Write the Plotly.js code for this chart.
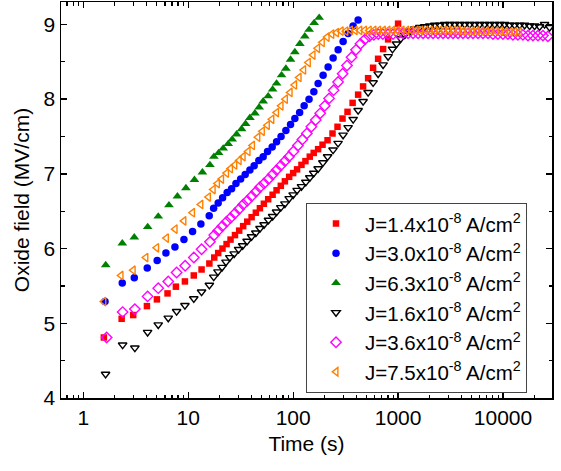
<!DOCTYPE html>
<html>
<head>
<meta charset="utf-8">
<script src="https://cdn.plot.ly/plotly-3.0.1.min.js"></script>
<style>html,body{margin:0;padding:0;background:#fff;}#chart{width:561px;height:471px;}</style>
</head>
<body>
<div id="chart"></div>
<script>
// ---- Data ----
const seriesNames = [
  'J=1.4x10<sup>-8</sup> A/cm<sup>2</sup>',
  'J=3.0x10<sup>-8</sup> A/cm<sup>2</sup>',
  'J=6.3x10<sup>-8</sup> A/cm<sup>2</sup>',
  'J=1.6x10<sup>-8</sup> A/cm<sup>2</sup>',
  'J=3.6x10<sup>-8</sup> A/cm<sup>2</sup>',
  'J=7.5x10<sup>-8</sup> A/cm<sup>2</sup>'
];

const tRed = [1.57, 2.32, 2.99, 4.04, 5.03, 6.35, 7.63, 9.3, 11.3, 13.4, 15.9, 17.7, 19.3, 21.2, 23.2, 25.3, 27.9, 30.6, 33.4, 36.5, 40.2, 44.1, 48.2, 52.6, 57.8, 63.7, 69.5, 76.3, 83.4, 91.6, 100, 109, 120, 131, 144, 157, 173, 190.5, 212.6, 237.2, 264.7, 295.4, 329.7, 368.7, 416, 464, 518, 578, 645, 720, 803, 1000];
const eRed = [4.81, 5.06, 5.11, 5.23, 5.32, 5.40, 5.49, 5.56, 5.64, 5.72, 5.80, 5.88, 5.94, 6.00, 6.06, 6.12, 6.18, 6.24, 6.30, 6.36, 6.42, 6.48, 6.54, 6.60, 6.66, 6.72, 6.78, 6.84, 6.90, 6.96, 7.01, 7.06, 7.12, 7.17, 7.23, 7.28, 7.33, 7.39, 7.45, 7.54, 7.63, 7.74, 7.83, 7.95, 8.06, 8.17, 8.28, 8.42, 8.54, 8.67, 8.80, 9.01];

const tBlue = [1.61, 2.35, 3.06, 4.07, 5.06, 6.13, 7.47, 9.1, 11.0, 13.2, 15.85, 17.46, 19.3, 21.27, 23.5, 25.9, 28.5, 31.6, 34.9, 38.7, 42.5, 47.1, 51.8, 57.0, 63.1, 69.5, 76.7, 85.2, 94.4, 103.8, 115.3, 127.3, 141.7, 157.4, 173, 193, 215.4, 240.4, 268.3, 299.4, 334, 372.8, 416];
const eBlue = [5.29, 5.54, 5.61, 5.74, 5.84, 5.94, 6.02, 6.12, 6.23, 6.33, 6.44, 6.54, 6.61, 6.68, 6.75, 6.80, 6.87, 6.93, 6.99, 7.05, 7.11, 7.18, 7.23, 7.30, 7.36, 7.43, 7.50, 7.58, 7.66, 7.74, 7.82, 7.91, 8.00, 8.10, 8.21, 8.32, 8.43, 8.55, 8.66, 8.77, 8.88, 8.98, 9.06];

const tGreen = [1.635, 2.352, 3.06, 4.107, 5.18, 6.55, 7.89, 9.51, 11.46, 13.65, 16.09, 17.57, 19.48, 21.54, 24.04, 26.24, 28.9, 32.26, 35.2, 38.7, 43.2, 47.4, 51.8, 57.8, 63.7, 69.5, 77.5, 85.2, 94.4, 103.8, 115.8, 129.2, 142, 158.5, 177];
const eGreen = [5.78, 6.07, 6.15, 6.29, 6.43, 6.58, 6.70, 6.81, 6.92, 7.02, 7.12, 7.23, 7.28, 7.34, 7.40, 7.46, 7.53, 7.60, 7.67, 7.75, 7.81, 7.89, 7.97, 8.04, 8.13, 8.21, 8.32, 8.41, 8.53, 8.63, 8.74, 8.84, 8.93, 9.02, 9.09];

const tBlack = [1.63, 2.37, 3.1, 4.1, 5.18, 6.45, 7.75, 9.3, 11.3, 13.4, 15.9, 17.5, 19.2, 21.0, 22.9, 24.9, 27.4, 30.2, 33.0, 36.4, 40.1, 44.1, 48.3, 52.8, 58.2, 63.7, 69.5, 76.2, 83.4, 91.6, 100, 109, 120, 132, 144, 157, 173, 192, 213, 240, 268, 299, 334, 373, 416, 464, 518, 578, 645, 720, 803, 884, 966, 1061, 1158, 1300, 1443, 1610, 1795, 2004, 2237, 2495, 2785, 3106, 3466, 3866, 4314, 4814, 5370, 5992, 6686, 7460, 8324, 9287, 10362, 11562, 12900, 14394, 16061, 17920, 19995, 22310, 24893, 27775];
const eBlack = [4.32, 4.71, 4.67, 4.88, 4.98, 5.07, 5.16, 5.24, 5.33, 5.42, 5.51, 5.62, 5.69, 5.75, 5.82, 5.88, 5.93, 5.99, 6.04, 6.10, 6.16, 6.21, 6.27, 6.32, 6.38, 6.43, 6.49, 6.55, 6.60, 6.67, 6.72, 6.78, 6.83, 6.89, 6.95, 7.01, 7.07, 7.15, 7.23, 7.32, 7.41, 7.52, 7.62, 7.73, 7.85, 7.97, 8.09, 8.22, 8.34, 8.46, 8.57, 8.67, 8.74, 8.81, 8.86, 8.91, 8.94, 8.96, 8.97, 8.98, 8.99, 8.99, 9.00, 9.00, 9.00, 9.00, 9.00, 9.00, 9.00, 9.00, 9.00, 9.00, 9.00, 9.00, 9.00, 8.99, 8.99, 8.99, 8.99, 8.98, 8.98, 8.97, 9.00, 8.96];

const tMagenta = [1.67, 2.37, 3.1, 4.1, 5.18, 6.45, 7.75, 9.35, 11.3, 13.4, 16.1, 17.7, 19.3, 21.1, 23.2, 25.3, 27.8, 30.6, 33.4, 36.5, 40.2, 44.1, 48.2, 52.8, 58.2, 63.7, 69.5, 76.2, 83.4, 91.2, 100.6, 111, 122.4, 135, 149, 164, 181, 200, 220, 243, 268, 296, 326, 360, 397, 438, 483, 533, 588, 648, 715, 803, 896, 1000, 1116, 1245, 1389, 1550, 1730, 1930, 2154, 2403, 2682, 2992, 3339, 3725, 4157, 4638, 5175, 5775, 6443, 7190, 8022, 8951, 9988, 11145, 12435, 13875, 15482, 17275, 19276, 21508, 23999, 26778];
const eMagenta = [4.81, 5.15, 5.19, 5.36, 5.47, 5.56, 5.68, 5.77, 5.88, 5.99, 6.09, 6.18, 6.24, 6.30, 6.36, 6.41, 6.47, 6.53, 6.59, 6.64, 6.70, 6.76, 6.82, 6.87, 6.93, 6.99, 7.05, 7.11, 7.17, 7.23, 7.30, 7.38, 7.46, 7.54, 7.63, 7.72, 7.81, 7.91, 8.01, 8.12, 8.23, 8.34, 8.45, 8.56, 8.66, 8.74, 8.80, 8.84, 8.86, 8.87, 8.87, 8.87, 8.87, 8.88, 8.88, 8.88, 8.88, 8.88, 8.88, 8.88, 8.88, 8.88, 8.88, 8.88, 8.88, 8.88, 8.88, 8.88, 8.88, 8.88, 8.88, 8.88, 8.87, 8.87, 8.87, 8.87, 8.86, 8.86, 8.86, 8.85, 8.85, 8.85, 8.85, 8.84];

const tOrange = [1.57, 2.29, 2.99, 3.95, 5.0, 6.2, 7.5, 9.1, 11.0, 13.2, 15.6, 17.3, 19.0, 20.8, 23.2, 25.3, 27.8, 30.6, 33.4, 37.2, 41.0, 46.1, 50.9, 56.8, 62.7, 69.5, 76.7, 84.4, 93.6, 103.3, 114, 126, 139.6, 154.8, 171, 189.7, 210.8, 233.7, 259.3, 287, 318, 352, 390, 432, 479, 531, 589, 653, 724, 802, 889, 986, 1093, 1211, 1343, 1488, 1650, 1829, 2027, 2247, 2491, 2761, 3061, 3393, 3761, 4169, 4622, 5123, 5679, 6296, 6979, 7736, 8575, 9506, 10537, 11681, 12948, 14353];
const eOrange = [5.29, 5.64, 5.71, 5.88, 6.01, 6.14, 6.26, 6.37, 6.48, 6.59, 6.69, 6.79, 6.87, 6.93, 7.01, 7.07, 7.12, 7.18, 7.23, 7.30, 7.38, 7.49, 7.57, 7.65, 7.73, 7.82, 7.91, 8.00, 8.09, 8.19, 8.29, 8.39, 8.49, 8.59, 8.68, 8.76, 8.83, 8.87, 8.89, 8.91, 8.91, 8.92, 8.92, 8.92, 8.92, 8.92, 8.92, 8.92, 8.92, 8.92, 8.92, 8.92, 8.92, 8.92, 8.92, 8.92, 8.92, 8.92, 8.92, 8.92, 8.92, 8.92, 8.92, 8.92, 8.92, 8.91, 8.91, 8.91, 8.91, 8.91, 8.91, 8.91, 8.91, 8.91, 8.90, 8.90, 8.90, 8.90];

const xTickVals = [1, 10, 100, 1000, 10000];
const xTickText = ['1', '10', '100', '1000', '10000'];
const yTickVals = [4, 5, 6, 7, 8, 9];
const yTickText = ['4', '5', '6', '7', '8', '9'];

// ---- Styles ----
const styles = [
  {symbol: 'square', color: '#ff0000', size: 6.5},
  {symbol: 'circle', color: '#0000ff', size: 7.5},
  {symbol: 'triangle-up', color: '#008000', size: 8.5},
  {symbol: 'triangle-down-open', color: '#000000', size: 7.5},
  {symbol: 'diamond-open', color: '#ff00ff', size: 8},
  {symbol: 'triangle-left-open', color: '#ff8000', size: 7.5}
];
const xs = [tRed, tBlue, tGreen, tBlack, tMagenta, tOrange];
const ys = [eRed, eBlue, eGreen, eBlack, eMagenta, eOrange];

const traces = xs.map((x, i) => ({
  type: 'scatter', mode: 'markers', x: x, y: ys[i], name: seriesNames[i],
  marker: {symbol: styles[i].symbol, color: styles[i].color, size: styles[i].size,
           line: {color: styles[i].color, width: styles[i].symbol.includes('open') ? 1.4 : 0}}
}));

const minorX = [];
for (let d = 0.1; d <= 10000; d *= 10) {
  for (let k = 2; k <= 9; k++) minorX.push(+(k * d).toPrecision(3));
}

const font = {family: 'Liberation Sans, Arial, sans-serif', size: 21, color: '#000'};

const layout = {
  width: 561, height: 471,
  margin: {l: 61, r: 9, t: 2, b: 73},
  paper_bgcolor: '#fff', plot_bgcolor: '#fff',
  font: font,
  showlegend: true,
  xaxis: {
    type: 'log', range: [Math.log10(0.613), Math.log10(29300)],
    tickmode: 'array', tickvals: xTickVals, ticktext: xTickText,
    ticks: 'inside', ticklen: 6, tickwidth: 1.3, tickcolor: '#000',
    showline: true, linecolor: '#000', linewidth: 1.5, mirror: 'ticks',
    showgrid: false, zeroline: false,
    minor: {tickmode: 'array', tickvals: minorX, ticks: 'inside', ticklen: 3.5, tickwidth: 1.2, tickcolor: '#000', showgrid: false},
    tickfont: font,
    title: {text: 'Time (s)', font: font, standoff: 8}
  },
  yaxis: {
    range: [4, 9.3],
    tickmode: 'array', tickvals: yTickVals, ticktext: yTickText,
    ticks: 'inside', ticklen: 6, tickwidth: 1.3, tickcolor: '#000',
    showline: true, linecolor: '#000', linewidth: 1.5, mirror: 'ticks',
    showgrid: false, zeroline: false,
    minor: {dtick: 0.5, tick0: 4.5, ticks: 'inside', ticklen: 3.5, tickwidth: 1.2, tickcolor: '#000', showgrid: false},
    tickfont: font,
    title: {text: 'Oxide field (MV/cm)', font: font, standoff: 8}
  },
  legend: {
    x: 0.499, y: 0.493, xanchor: 'left', yanchor: 'top',
    bgcolor: '#fff', bordercolor: '#444', borderwidth: 1,
    font: {family: 'Liberation Sans, Arial, sans-serif', size: 20.5, color: '#000'},
    itemwidth: 48, tracegroupgap: 0
  }
};

Plotly.newPlot('chart', traces, layout, {displayModeBar: false, staticPlot: true});
</script>
</body>
</html>
